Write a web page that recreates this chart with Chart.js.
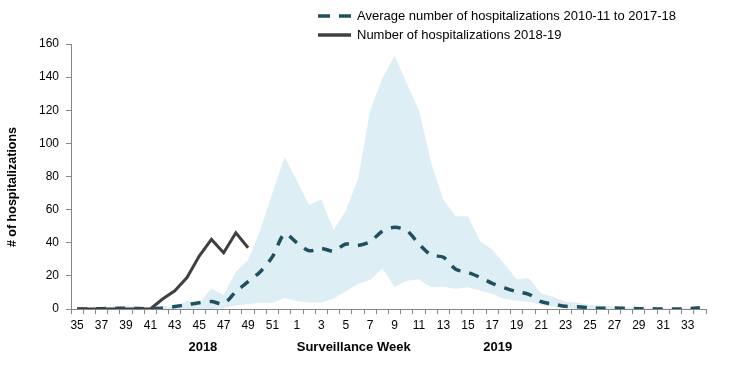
<!DOCTYPE html>
<html>
<head>
<meta charset="utf-8">
<script src="https://cdn.jsdelivr.net/npm/chart.js@4/dist/chart.umd.min.js"></script>
<style>
  html, body { margin: 0; padding: 0; background: #ffffff; }
  #wrap { width: 729px; height: 365px; position: relative; }
</style>
</head>
<body>
<div id="wrap"><canvas id="c" width="729" height="365"></canvas></div>
<script>
// ---- Data ----
const weeks = ['35','36','37','38','39','40','41','42','43','44','45','46','47','48','49','50','51','52',
  '1','2','3','4','5','6','7','8','9','10','11','12','13','14','15','16','17','18','19','20',
  '21','22','23','24','25','26','27','28','29','30','31','32','33','34'];

const season2018 = [0,0,0,0,0,0,0,6,11,19,32,42,34,46,37,
  null,null,null,null,null,null,null,null,null,null,null,null,null,null,null,null,null,null,null,null,null,
  null,null,null,null,null,null,null,null,null,null,null,null,null,null,null,null];

const averagePast = [0,0,0.2,0.3,0.5,0.3,0.2,0.5,1.5,2.6,3.8,4.5,3.2,10.5,16.5,22.5,31.6,45.3,
  40,35.2,36.6,35,39.2,38.4,40.7,47,49.3,47.3,39.2,32.6,31.2,24,22.1,19.1,15.5,12.8,10.5,8.9,
  4.4,3,1.6,1.4,0.6,0.5,0.6,0.4,0.2,0.1,0,0,0.2,0.8];

const rangeHigh = [1,1,1,1.5,2,1.5,1,2,1,5,3.4,12.5,8.4,22.5,29.6,47.7,70,92,
  77.5,62.8,66.2,47.7,59.3,78.4,120,139.3,153,136.2,120,88,65.8,56,55.8,41,35.8,27,17.9,18.5,
  9.5,7.4,4.4,3.8,2.4,2.2,1.4,1,0.8,0.5,0.5,0.3,0.5,1];

const rangeLow = [0,0,0,0,0,0,0,0,0,0,0,0,0.5,2.2,3,3.8,3.8,6.6,
  4.9,4,4,6.4,10.5,15.1,17.5,24.6,13.3,17.1,17.9,13.1,13.5,12.3,13.1,11.1,9,6,5,4.4,
  2.4,1.5,0.5,0,0,0,0,0,0,0,0,0,0,0];

const yTicks = [0,20,40,60,80,100,120,140,160];

const seriesLabels = ['Number of hospitalizations 2018-19', 'Average number of hospitalizations 2010-11 to 2017-18'];
const yTitle = '# of hospitalizations';
const xTitle = 'Surveillance Week';
const yearLabels = ['2018', '2019'];

// ---- Styles ----
const C_LINE = '#404040';
const C_AVG = '#1F5060';
const C_BAND = '#DDEEF5';
const C_AXIS = '#868686';
const FONT = '"Liberation Sans", Arial, sans-serif';

const annotPlugin = {
  id: 'annot',
  afterDraw(chart) {
    const ctx = chart.ctx;
    const x = chart.scales.x;
    ctx.save();
    // Legend (average first, then current season)
    const items = [
      { text: seriesLabels[1], color: C_AVG, dash: [12, 9], y: 16 },
      { text: seriesLabels[0], color: C_LINE, dash: [], y: 35 }
    ];
    ctx.font = '13px ' + FONT;
    ctx.textBaseline = 'middle';
    ctx.textAlign = 'left';
    items.forEach(it => {
      ctx.strokeStyle = it.color;
      ctx.lineWidth = 3.5;
      ctx.setLineDash(it.dash);
      ctx.beginPath();
      ctx.moveTo(318, it.y);
      ctx.lineTo(351, it.y);
      ctx.stroke();
      ctx.setLineDash([]);
      ctx.fillStyle = '#000';
      ctx.fillText(it.text, 357, it.y);
    });
    // Bottom labels
    ctx.font = 'bold 13px ' + FONT;
    ctx.textAlign = 'center';
    ctx.fillStyle = '#000';
    ctx.fillText(yearLabels[0], x.getPixelForValue(10.3), 347);
    ctx.fillText(xTitle, x.getPixelForValue(22.65), 347);
    ctx.fillText(yearLabels[1], x.getPixelForValue(34.45), 347);
    // Y title
    ctx.font = 'bold 12.5px ' + FONT;
    ctx.translate(13, 187);
    ctx.rotate(-Math.PI / 2);
    ctx.fillText(yTitle, 0, 0);
    ctx.restore();
  }
};

new Chart(document.getElementById('c'), {
  type: 'line',
  data: {
    labels: weeks,
    datasets: [
      {
        label: seriesLabels[0],
        data: season2018,
        borderColor: C_LINE,
        borderWidth: 3,
        pointRadius: 0,
        tension: 0,
        fill: false,
        spanGaps: false
      },
      {
        label: seriesLabels[1],
        data: averagePast,
        borderColor: C_AVG,
        borderWidth: 3.5,
        borderDash: [10, 9],
        borderCapStyle: 'butt',
        pointRadius: 0,
        tension: 0.3,
        fill: false
      },
      {
        label: 'high',
        data: rangeHigh,
        borderColor: 'transparent',
        backgroundColor: C_BAND,
        borderWidth: 0,
        pointRadius: 0,
        tension: 0,
        fill: '+1'
      },
      {
        label: 'low',
        data: rangeLow,
        borderColor: 'transparent',
        backgroundColor: 'rgba(255,255,255,0)',
        borderWidth: 0,
        pointRadius: 0,
        tension: 0,
        fill: false
      }
    ]
  },
  options: {
    responsive: false,
    animation: false,
    layout: { padding: { left: 0, right: 23, top: 44, bottom: 0 } },
    plugins: {
      legend: { display: false },
      tooltip: { enabled: false },
      title: { display: false }
    },
    scales: {
      x: {
        type: 'category',
        offset: true,
        grid: {
          offset: true,
          drawOnChartArea: false,
          drawTicks: true,
          tickLength: 5,
          color: C_AXIS
        },
        border: { display: true, color: C_AXIS, width: 1 },
        ticks: {
          autoSkip: false,
          maxRotation: 0,
          minRotation: 0,
          padding: 4,
          color: '#000',
          font: { family: FONT, size: 12 },
          callback: (v, i) => (i % 2 === 0 ? weeks[i] : '')
        },
        afterFit: s => { s.height = 56; }
      },
      y: {
        min: 0,
        max: 160,
        afterBuildTicks: s => { s.ticks = yTicks.map(v => ({ value: v })); },
        grid: {
          drawOnChartArea: false,
          drawTicks: true,
          tickLength: 5,
          color: C_AXIS
        },
        border: { display: true, color: C_AXIS, width: 1 },
        ticks: {
          padding: 7,
          color: '#000',
          font: { family: FONT, size: 12 }
        },
        afterFit: s => { s.width = 71; }
      }
    }
  },
  plugins: [annotPlugin]
});
</script>
</body>
</html>
